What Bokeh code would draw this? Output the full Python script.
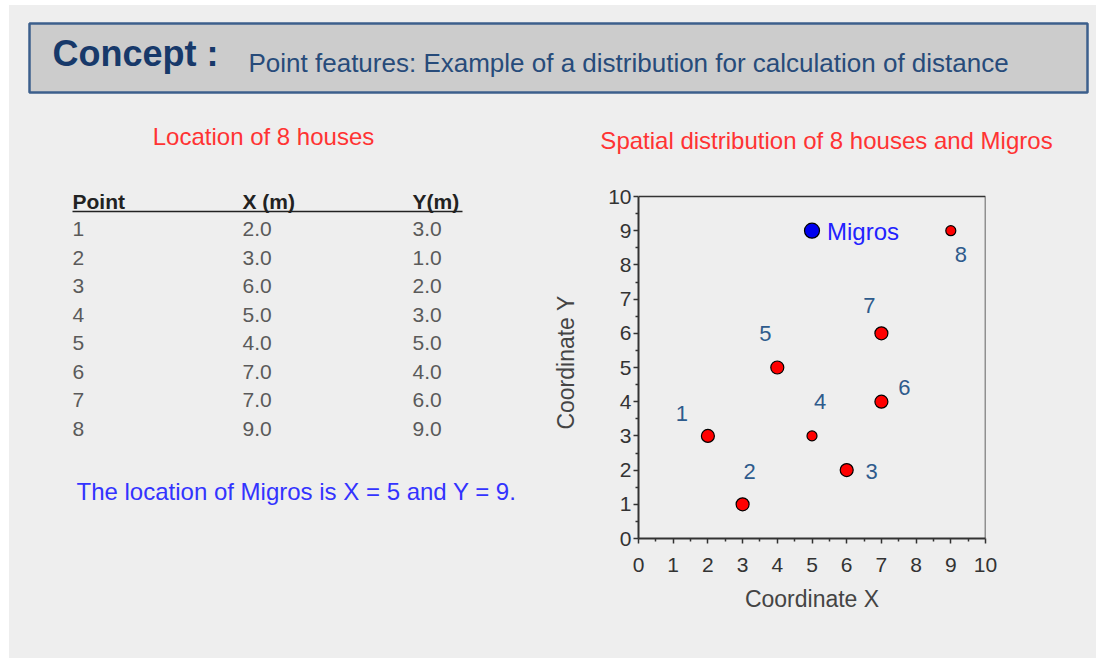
from bokeh.plotting import figure
from bokeh.layouts import column, row
from bokeh.models import Range1d, FixedTicker, ColumnDataSource, Spacer
from bokeh.core.properties import value
from bokeh.embed import file_html
from bokeh.resources import INLINE

# ---------------- data ----------------
point_ids = ["1", "2", "3", "4", "5", "6", "7", "8"]
x_m = [2.0, 3.0, 6.0, 5.0, 4.0, 7.0, 7.0, 9.0]
y_m = [3.0, 1.0, 2.0, 3.0, 5.0, 4.0, 6.0, 9.0]
migros_name = ["Migros"]
migros_x = [5.0]
migros_y = [9.0]
table_headers = ["Point", "X (m)", "Y(m)"]
axis_ticks = [0, 1, 2, 3, 4, 5, 6, 7, 8, 9, 10]
minor_ticks = [0.5, 1.5, 2.5, 3.5, 4.5, 5.5, 6.5, 7.5, 8.5, 9.5]

# ---------------- styles ----------------
FONT = "Liberation Sans"
BG = "#eeeeee"
marker_sizes = [13, 13, 13, 10, 13, 13, 13, 10]
label_dx = [-26, 7, 25, 8, -12, 23, -12, 10]
label_dy = [-22, -33, 1, -34, -34, -14, -28, 24]


def blank(w, h, xr, yr, **kw):
    p = figure(width=w, height=h, x_range=Range1d(*xr), y_range=Range1d(*yr),
               x_axis_type=None, y_axis_type=None, toolbar_location=None,
               output_backend="svg", **kw)
    p.background_fill_color = BG
    p.border_fill_color = BG
    p.outline_line_color = None
    p.grid.visible = False
    return p


# ---------------- header (page coords x 9..1096, y 5..180) ----------------
hdr = blank(1087, 175, (9, 1096), (180, 5), min_border=0)
hdr.quad(left=[29], right=[1087], top=[23], bottom=[92],
         fill_color="#cccccc", line_color="#3c5f8c", line_width=2.5)
hdr.text(x=[52], y=[53], text=["Concept :"], text_font=value(FONT),
         text_font_size="36px", text_font_style="bold", text_color="#17396a",
         text_baseline="middle")
hdr.text(x=[248], y=[62],
         text=["Point features: Example of a distribution for calculation of distance"],
         text_font=value(FONT), text_font_size="26px", text_color="#274b7a",
         text_baseline="middle")
hdr.text(x=[263, 826], y=[136, 140],
         text=["Location of 8 houses", "Spatial distribution of 8 houses and Migros"],
         text_font=value(FONT), text_font_size="24px", text_color="#ff3333",
         text_align="center", text_baseline="middle")

# ---------------- left panel (page x 9..548, frame y 186..538) ----------------
lft = blank(539, 478, (9, 548), (538, 186), min_border_left=0, min_border_right=0,
            min_border_top=6, min_border_bottom=120)
col_x = [72, 242, 412]
lft.text(x=col_x, y=[201] * 3, text=table_headers, text_font=value(FONT),
         text_font_size="21px", text_font_style="bold", text_color="#222222",
         text_baseline="middle")
lft.line(x=[72, 462], y=[211, 211], line_color="#222222", line_width=1.5)
row_y = [228.5 + 28.57 * i for i in range(len(point_ids))]
cells_x, cells_y, cells_t = [], [], []
for i, pid in enumerate(point_ids):
    for cx, t in zip(col_x, [pid, f"{x_m[i]:.1f}", f"{y_m[i]:.1f}"]):
        cells_x.append(cx)
        cells_y.append(row_y[i])
        cells_t.append(t)
lft.text(x=cells_x, y=cells_y, text=cells_t, text_font=value(FONT),
         text_font_size="21px", text_color="#5a5a5a", text_baseline="middle")
lft.text(x=[76], y=[491],
         text=[f"The location of Migros is X = {migros_x[0]:g} and Y = {migros_y[0]:g}."],
         text_font=value(FONT), text_font_size="24px", text_color="#3333ff",
         text_baseline="middle")

# ---------------- right panel (scatter) ----------------
# frame spans page y 186..538; the value 10 sits at page y 196
y_top = axis_ticks[-1] * (538 - 186) / (538 - 196)
sc = figure(width=548, height=478,
            x_range=Range1d(axis_ticks[0], axis_ticks[-1]),
            y_range=Range1d(axis_ticks[0], y_top),
            toolbar_location=None, output_backend="svg",
            min_border_left=90, min_border_right=111, min_border_top=6,
            min_border_bottom=120)
sc.background_fill_color = BG
sc.border_fill_color = BG
sc.outline_line_color = None
sc.grid.visible = False

ticker = FixedTicker(ticks=axis_ticks, minor_ticks=minor_ticks)
for ax in (sc.xaxis[0], sc.yaxis[0]):
    ax.ticker = ticker
    ax.bounds = (axis_ticks[0], axis_ticks[-1])
    ax.axis_line_color = "#333333"
    ax.axis_line_width = 2
    ax.major_tick_line_color = "#333333"
    ax.major_tick_line_width = 1.5
    ax.minor_tick_line_color = "#333333"
    ax.minor_tick_line_width = 1.5
    ax.major_tick_in = 0
    ax.major_tick_out = 5
    ax.minor_tick_in = 0
    ax.minor_tick_out = 3
    ax.major_label_text_font = FONT
    ax.major_label_text_font_size = "21px"
    ax.major_label_text_color = "#333333"
    ax.axis_label_text_font = FONT
    ax.axis_label_text_font_size = "23px"
    ax.axis_label_text_font_style = "normal"
    ax.axis_label_text_color = "#444444"
sc.xaxis.axis_label = "Coordinate X"
sc.yaxis.axis_label = "Coordinate Y"
sc.xaxis.major_label_standoff = 14
sc.xaxis.axis_label_standoff = 11
sc.yaxis.major_label_standoff = 2
sc.yaxis.axis_label_standoff = 26

# top and right border of the plotting box
lo, hi = axis_ticks[0], axis_ticks[-1]
sc.line(x=[lo, hi, hi], y=[hi, hi, lo], line_color="#333333", line_width=1.5)

src = ColumnDataSource(dict(x=x_m, y=y_m, id=point_ids, size=marker_sizes,
                            dx=label_dx, dy=label_dy))
sc.scatter("x", "y", source=src, size="size", fill_color="#ff0000",
           line_color="#000000", line_width=1.2)
sc.text("x", "y", text="id", source=src, x_offset="dx", y_offset="dy",
        text_font=value(FONT), text_font_size="22px", text_color="#2e5b8c",
        text_align="center", text_baseline="middle")

msrc = ColumnDataSource(dict(x=migros_x, y=migros_y, name=migros_name))
sc.scatter("x", "y", source=msrc, size=15, fill_color="#0000ee",
           line_color="#000000", line_width=1.2)
sc.text("x", "y", text="name", source=msrc, x_offset=15, y_offset=1,
        text_font=value(FONT), text_font_size="24px", text_color="#2222ff",
        text_align="left", text_baseline="middle")

bg_style = {"background-color": BG}
content = column(hdr, row(lft, sc, spacing=0, styles=bg_style), spacing=0,
                 styles=bg_style)
layout = column(Spacer(width=1096, height=5),
                row(Spacer(width=9, height=653), content, spacing=0),
                spacing=0)
open("out.html", "w").write(file_html(layout, INLINE))
